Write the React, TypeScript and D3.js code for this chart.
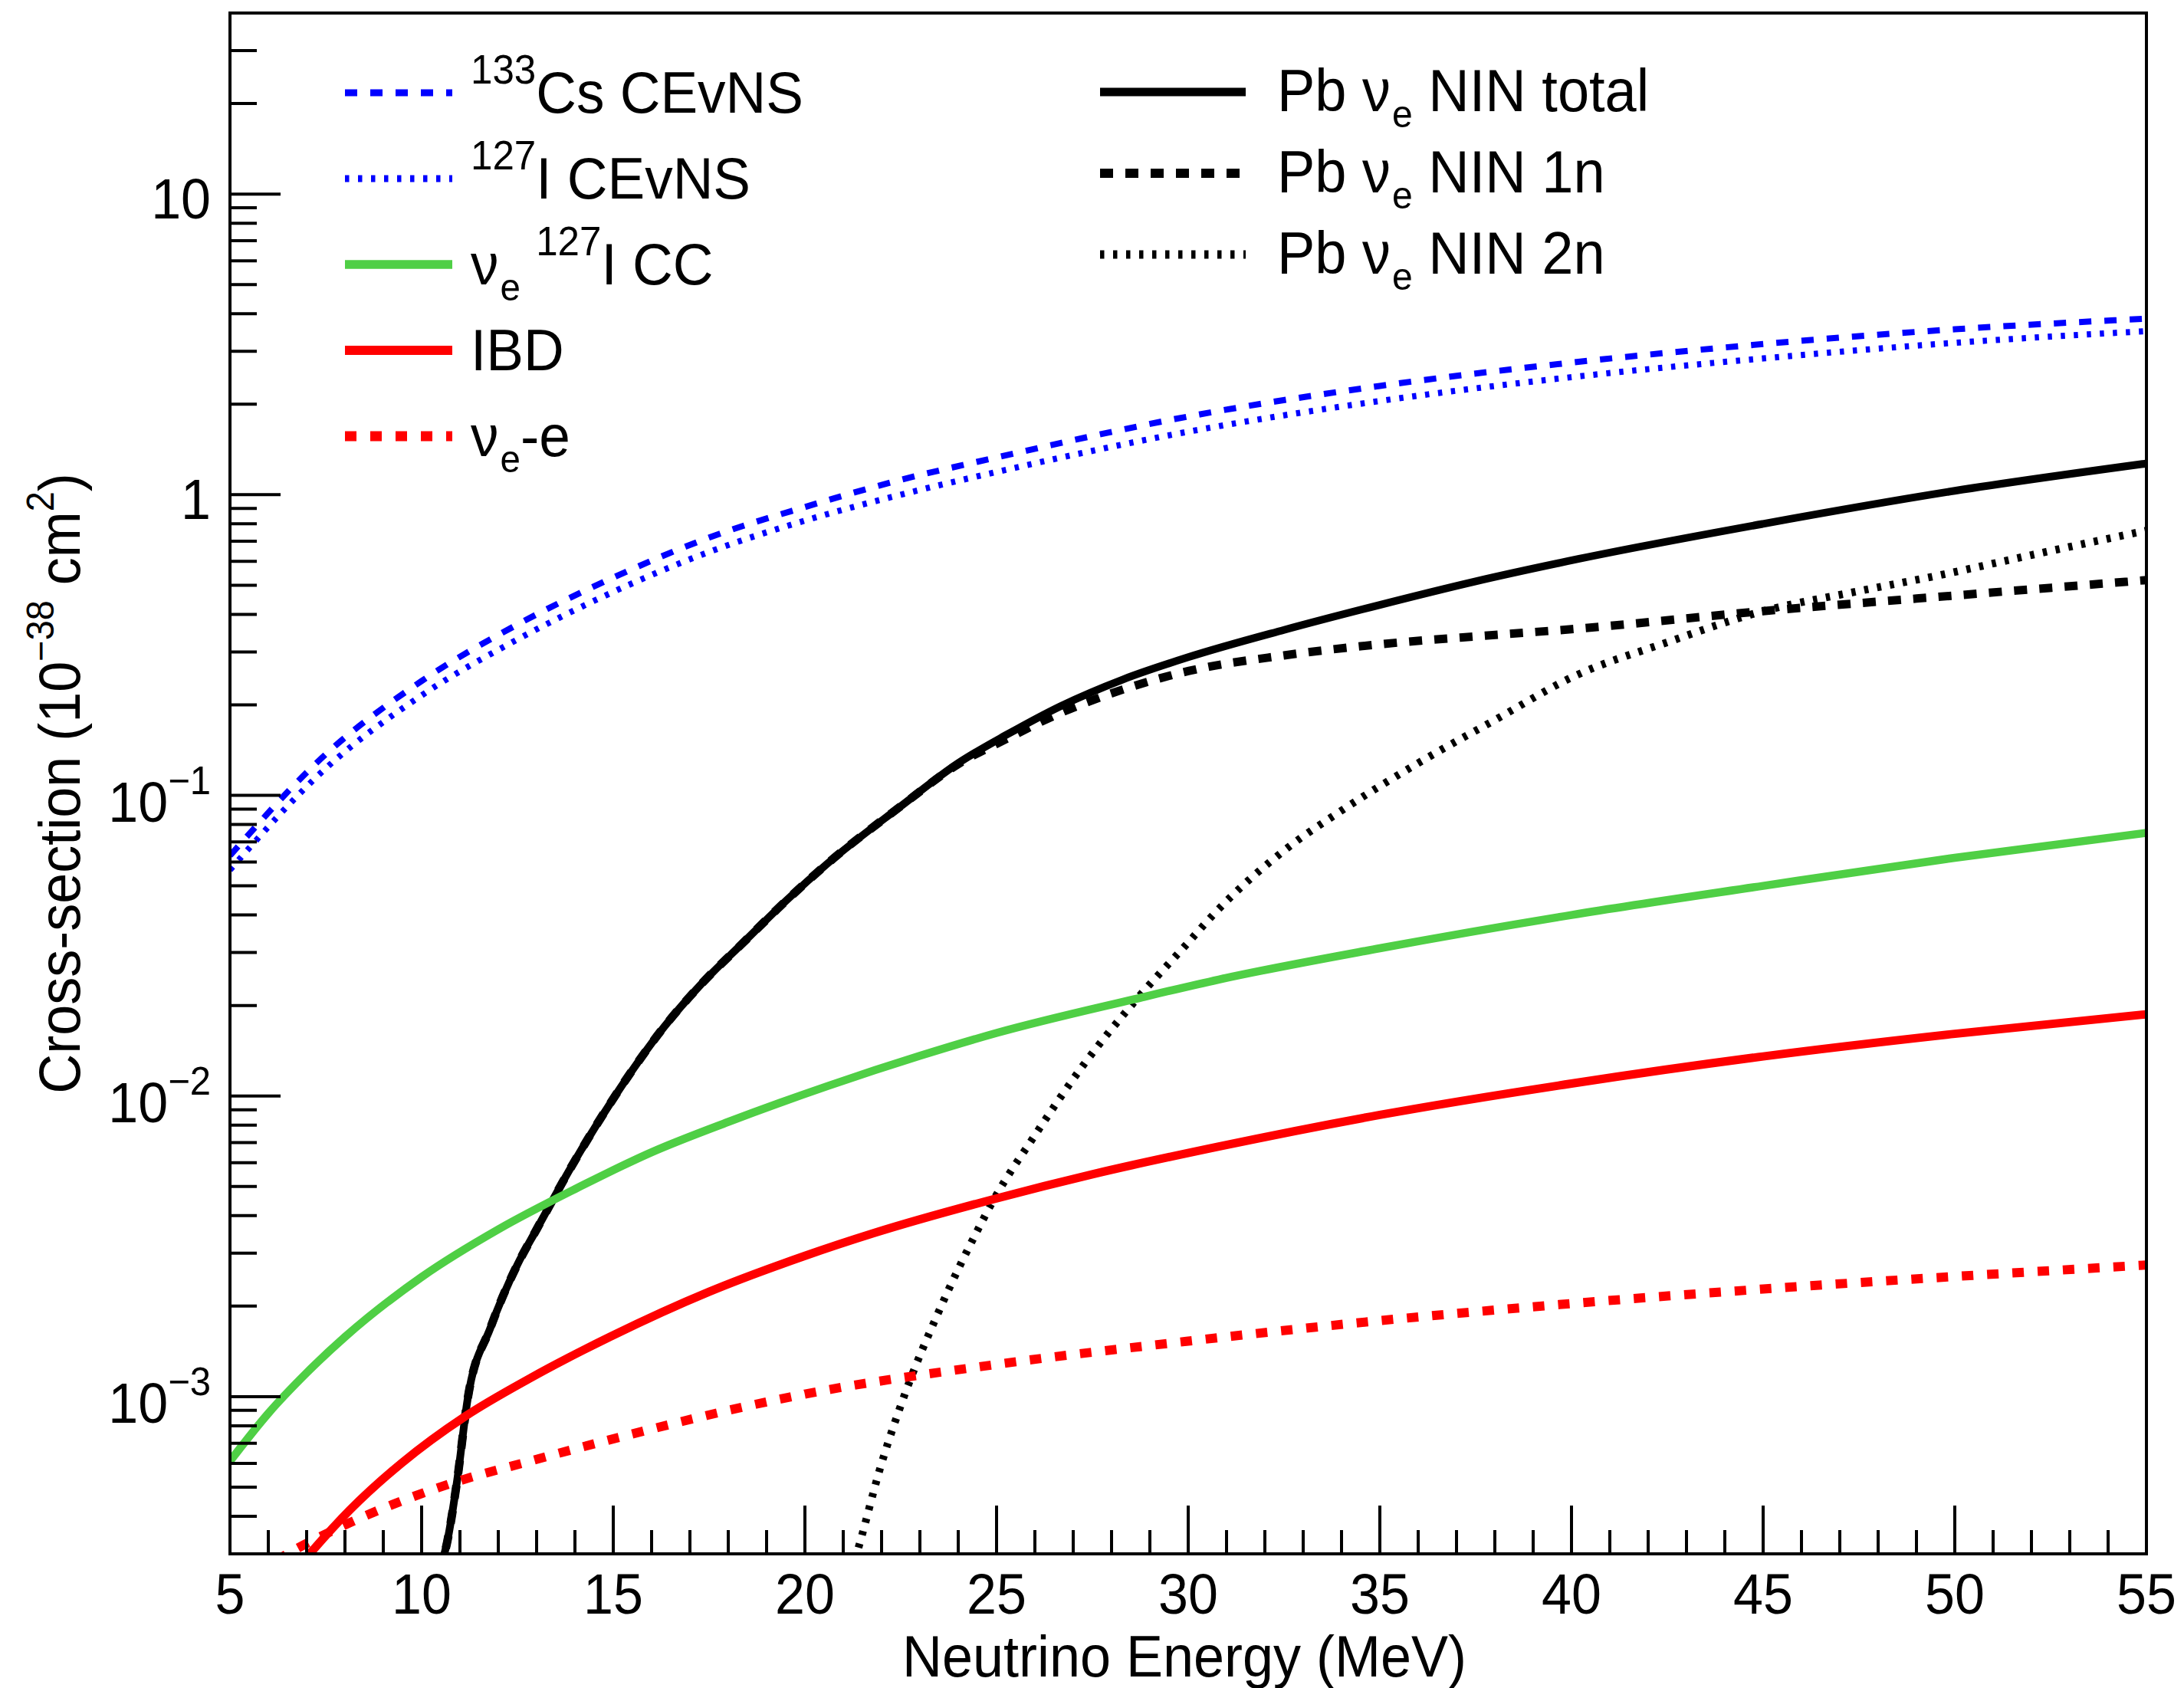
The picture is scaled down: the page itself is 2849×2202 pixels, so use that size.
import React from "react";
import * as d3 from "d3";

// ---------------- data ----------------
const csEnergy = [5, 7.5, 10, 12.5, 15, 17.5, 20, 22.5, 25, 30, 35, 40, 45, 50, 55];
const csXsec = [0.063, 0.137, 0.24, 0.37, 0.53, 0.72, 0.91, 1.12, 1.33, 1.82, 2.3, 2.75, 3.17, 3.55, 3.85];

const iEnergy = [5, 7.5, 10, 12.5, 15, 17.5, 20, 22.5, 25, 30, 35, 40, 45, 50, 55];
const iXsec = [0.0565, 0.123, 0.215, 0.33, 0.475, 0.645, 0.82, 1.0, 1.19, 1.62, 2.05, 2.46, 2.84, 3.2, 3.5];

const ccEnergy = [5, 6, 7, 8, 10, 12, 14, 16, 18, 20.6, 23, 25, 28.6, 30.8, 35, 40, 45, 50, 55];
const ccXsec = [6.1e-4, 8.8e-4, 1.2e-3, 1.58e-3, 2.5e-3, 3.6e-3, 4.9e-3, 6.5e-3, 8.2e-3, 0.0108, 0.0136, 0.0162, 0.021, 0.0244, 0.031, 0.04, 0.05, 0.062, 0.075];

const ibdEnergy = [6.9, 7.13, 8.13, 9.47, 11.13, 12.8, 14.93, 17.5, 20, 21.8, 24.93, 27.5, 30.8, 35, 40, 45, 50, 55];
const ibdXsec = [2.82e-4, 3.05e-4, 4.2e-4, 6.0e-4, 8.59e-4, 1.146e-3, 1.585e-3, 2.233e-3, 2.94e-3, 3.5e-3, 4.54e-3, 5.49e-3, 6.79e-3, 8.65e-3, 0.011, 0.01354, 0.0161, 0.0187];

const nueEnergy = [6.2, 6.5, 8.13, 10.8, 12.8, 14.8, 20, 25, 30, 35, 40, 45, 50, 55];
const nueXsec = [2.85e-4, 3.0e-4, 3.81e-4, 5.16e-4, 6.09e-4, 7.13e-4, 1.02e-3, 1.28e-3, 1.53e-3, 1.79e-3, 2.04e-3, 2.28e-3, 2.51e-3, 2.74e-3];

const ninTotalEnergy = [10.45, 10.67, 10.93, 11.2, 11.8, 12.5, 13, 14, 15, 16.33, 17.3, 18.33, 19.5, 20.6, 22.5, 24, 25.3, 26.67, 28.3, 30, 32.5, 35, 37.5, 40.2, 45, 50, 55];
const ninTotalXsec = [2.6e-4, 3.3e-4, 5.3e-4, 9.8e-4, 1.7e-3, 2.75e-3, 3.6e-3, 6.1e-3, 9.8e-3, 0.017, 0.0236, 0.0318, 0.0445, 0.0595, 0.092, 0.128, 0.16, 0.198, 0.243, 0.288, 0.355, 0.43, 0.515, 0.612, 0.8, 1.03, 1.27];

const nin1nEnergy = [10.45, 10.67, 10.93, 11.2, 11.8, 12.5, 13, 14, 15, 16.33, 17.3, 18.33, 19.5, 20.6, 22.5, 24, 25.3, 26.67, 28.3, 30, 32.5, 35, 37.5, 40, 45, 50, 55];
const nin1nXsec = [2.6e-4, 3.3e-4, 5.3e-4, 9.8e-4, 1.7e-3, 2.75e-3, 3.6e-3, 6.1e-3, 9.8e-3, 0.017, 0.0236, 0.0318, 0.0445, 0.0595, 0.092, 0.127, 0.155, 0.188, 0.225, 0.259, 0.292, 0.318, 0.338, 0.357, 0.41, 0.462, 0.52];

const nin2nEnergy = [21.2, 21.35, 22, 22.62, 23.5, 24.53, 24.93, 26, 27.27, 28.6, 30, 30.67, 32.6, 34, 36, 38, 40.07, 42.5, 45, 47.5, 49.7, 52, 55];
const nin2nXsec = [2.6e-4, 3.0e-4, 6.0e-4, 1.03e-3, 1.93e-3, 3.63e-3, 4.53e-3, 7.4e-3, 0.0127, 0.0206, 0.0324, 0.0403, 0.067, 0.089, 0.128, 0.178, 0.249, 0.323, 0.41, 0.478, 0.543, 0.63, 0.76];

const xMajorTicks = [5, 10, 15, 20, 25, 30, 35, 40, 45, 50, 55];
const xTickLabels = ["5", "10", "15", "20", "25", "30", "35", "40", "45", "50", "55"];
const yMajorTicks = [1e-3, 1e-2, 1e-1, 1, 10];
const yTickBase = ["10", "10", "10", "1", "10"];
const yTickExp = ["\u22123", "\u22122", "\u22121", "", ""];

const X_DOMAIN = [5, 55];
const Y_DOMAIN = [3e-4, 40];

// ---------------- layout ----------------
const W = 2849;
const H = 2202;
const PL = 300, PR = 2800, PT = 17, PB = 2027;
const FONT = "'Liberation Sans', Arial, Helvetica, sans-serif";
const STRETCH = 1.05;

const x = d3.scaleLinear().domain(X_DOMAIN).range([PL, PR]);
const y = d3.scaleLog().domain(Y_DOMAIN).range([PB, PT]);

type Series = { key: string; e: number[]; v: number[]; color: string; width: number; dash?: string };

const series: Record<string, Series> = {
  cs: { key: "cs", e: csEnergy, v: csXsec, color: "#0000ff", width: 8, dash: "16 17" },
  i127: { key: "i127", e: iEnergy, v: iXsec, color: "#0000ff", width: 8, dash: "5.5 11.5" },
  cc: { key: "cc", e: ccEnergy, v: ccXsec, color: "#4fcf45", width: 10.5 },
  ibd: { key: "ibd", e: ibdEnergy, v: ibdXsec, color: "#ff0000", width: 11 },
  nue: { key: "nue", e: nueEnergy, v: nueXsec, color: "#ff0000", width: 12, dash: "15 18" },
  ninTotal: { key: "ninTotal", e: ninTotalEnergy, v: ninTotalXsec, color: "#000000", width: 10 },
  nin1n: { key: "nin1n", e: nin1nEnergy, v: nin1nXsec, color: "#000000", width: 11, dash: "17 16" },
  nin2n: { key: "nin2n", e: nin2nEnergy, v: nin2nXsec, color: "#000000", width: 10, dash: "5.5 11.5" },
};

const drawOrder = ["nin1n", "ninTotal", "nin2n", "cs", "i127", "cc", "ibd", "nue"];

const line = d3
  .line<[number, number]>()
  .x((d) => x(d[0]))
  .y((d) => y(d[1]))
  .curve(d3.curveMonotoneX);

function pathFor(s: Series) {
  const pts: [number, number][] = s.e.map((e, i) => [e, s.v[i]]);
  return line(pts) || "";
}

function Txt(props: { x: number; y: number; size: number; anchor?: string; rotate?: number; children: any }) {
  const { x: tx, y: ty, size, anchor, rotate, children } = props;
  const tr = `translate(${tx},${ty})` + (rotate ? ` rotate(${rotate})` : "") + ` scale(1,${STRETCH})`;
  return (
    <g transform={tr}>
      <text x={0} y={0} fontSize={size} fontFamily={FONT} textAnchor={anchor || "start"} fill="#000" style={{ whiteSpace: "pre" }}>
        {children}
      </text>
    </g>
  );
}

const SUP = 0.7;
const SUP_RAISE = 0.5;
const SUB_DROP = 0.27;

function Sup({ F, text, after }: { F: number; text: string; after: string }) {
  return (
    <>
      <tspan fontSize={F * SUP} dy={-F * SUP_RAISE}>{text}</tspan>
      <tspan dy={F * SUP_RAISE}>{after}</tspan>
    </>
  );
}

const FL = 73; // left legend font
const FR = 74; // right legend font
const leftRows = [121, 233, 345, 457, 569];
const rightRows = [120, 226, 332];

function LegendLine({ s, x1, x2, yy }: { s: Series; x1: number; x2: number; yy: number }) {
  return (
    <line x1={x1} x2={x2} y1={yy} y2={yy} stroke={s.color} strokeWidth={s.width + 1} strokeDasharray={s.dash} />
  );
}

function NuE({ F }: { F: number }) {
  return (
    <>
      <tspan>{"\u03BD"}</tspan>
      <tspan fontSize={F * 0.65} dy={F * SUB_DROP} dx={2}>e</tspan>
    </>
  );
}

export default function App() {
  const xMinor = d3.range(5, 55.001, 1).filter((v) => Math.abs(v % 5) > 1e-6);
  const yMinor: number[] = [];
  for (let d = -4; d <= 1; d++) {
    for (let m = 2; m <= 9; m++) {
      const v = m * Math.pow(10, d);
      if (v > Y_DOMAIN[0] * 1.001 && v < Y_DOMAIN[1] * 0.999) yMinor.push(v);
    }
  }
  const TL = 63, TS = 31, YTL = 66, YTS = 35;

  return (
    <svg width={W} height={H} viewBox={`0 0 ${W} ${H}`} style={{ position: "absolute", left: 0, top: 0, display: "block", background: "#fff" }}>
      <rect x={0} y={0} width={W} height={H} fill="#fff" />
      <defs>
        <clipPath id="plotclip">
          <rect x={PL} y={PT} width={PR - PL} height={PB - PT} />
        </clipPath>
      </defs>

      {/* curves */}
      <g clipPath="url(#plotclip)" fill="none">
        {drawOrder.map((k) => {
          const s = series[k];
          return (
            <path key={k} d={pathFor(s)} stroke={s.color} strokeWidth={s.width} strokeDasharray={s.dash} strokeLinecap="butt" strokeLinejoin="round" />
          );
        })}
      </g>

      {/* frame */}
      <rect x={PL} y={PT} width={PR - PL} height={PB - PT} fill="none" stroke="#000" strokeWidth={4} />

      {/* x ticks */}
      {xMajorTicks.map((t) => (
        <line key={"xm" + t} x1={x(t)} x2={x(t)} y1={PB} y2={PB - TL} stroke="#000" strokeWidth={4} />
      ))}
      {xMinor.map((t) => (
        <line key={"xn" + t} x1={x(t)} x2={x(t)} y1={PB} y2={PB - TS} stroke="#000" strokeWidth={4} />
      ))}
      {xMajorTicks.map((t, i) => (
        <Txt key={"xl" + t} x={x(t)} y={2105} size={70} anchor="middle">
          {xTickLabels[i]}
        </Txt>
      ))}

      {/* y ticks */}
      {yMajorTicks.map((t) => (
        <line key={"ym" + t} x1={PL} x2={PL + YTL} y1={y(t)} y2={y(t)} stroke="#000" strokeWidth={4} />
      ))}
      {yMinor.map((t) => (
        <line key={"yn" + t} x1={PL} x2={PL + YTS} y1={y(t)} y2={y(t)} stroke="#000" strokeWidth={4} />
      ))}
      {yMajorTicks.map((t, i) =>
        yTickExp[i] ? (
          <Txt key={"yl" + t} x={275} y={y(t) + 34} size={70} anchor="end">
            <tspan>{yTickBase[i]}</tspan>
            <tspan fontSize={49} dy={-34}>{yTickExp[i]}</tspan>
          </Txt>
        ) : (
          <Txt key={"yl" + t} x={275} y={y(t) + 32} size={70} anchor="end">
            {yTickBase[i]}
          </Txt>
        )
      )}

      {/* axis titles */}
      <Txt x={1545} y={2187} size={72} anchor="middle">
        Neutrino Energy (MeV)
      </Txt>
      <Txt x={104} y={1022} size={72} anchor="middle" rotate={-90}>
        <tspan>Cross-section (10</tspan>
        <tspan fontSize={72 * 0.65} dy={-72 * 0.45}>{"\u221238"}</tspan>
        <tspan dy={72 * 0.45}> cm</tspan>
        <tspan fontSize={72 * 0.65} dy={-72 * 0.45}>2</tspan>
        <tspan dy={72 * 0.45}>)</tspan>
      </Txt>

      {/* left legend */}
      <LegendLine s={series.cs} x1={450} x2={590} yy={leftRows[0]} />
      <Txt x={614} y={leftRows[0] + 26} size={FL}>
        <Sup F={FL} text="133" after="Cs CEvNS" />
      </Txt>
      <LegendLine s={series.i127} x1={450} x2={590} yy={leftRows[1]} />
      <Txt x={614} y={leftRows[1] + 26} size={FL}>
        <Sup F={FL} text="127" after="I CEvNS" />
      </Txt>
      <LegendLine s={series.cc} x1={450} x2={590} yy={leftRows[2]} />
      <Txt x={614} y={leftRows[2] + 26} size={FL}>
        <NuE F={FL} />
        <tspan dy={-FL * SUB_DROP}> </tspan>
        <tspan fontSize={FL * SUP} dy={-FL * SUP_RAISE}>127</tspan>
        <tspan dy={FL * SUP_RAISE}>I CC</tspan>
      </Txt>
      <LegendLine s={series.ibd} x1={450} x2={590} yy={leftRows[3]} />
      <Txt x={614} y={leftRows[3] + 26} size={FL}>
        IBD
      </Txt>
      <LegendLine s={series.nue} x1={450} x2={590} yy={leftRows[4]} />
      <Txt x={614} y={leftRows[4] + 26} size={FL}>
        <NuE F={FL} />
        <tspan dy={-FL * SUB_DROP}>-e</tspan>
      </Txt>

      {/* right legend */}
      {[
        { s: series.ninTotal, label: "NIN total" },
        { s: series.nin1n, label: "NIN 1n" },
        { s: series.nin2n, label: "NIN 2n" },
      ].map((row, i) => (
        <g key={"rl" + i}>
          <LegendLine s={row.s} x1={1435} x2={1625} yy={rightRows[i]} />
          <Txt x={1666} y={rightRows[i] + 25} size={FR}>
            <tspan>{"Pb "}</tspan>
            <NuE F={FR} />
            <tspan dy={-FR * SUB_DROP}>{" " + row.label}</tspan>
          </Txt>
        </g>
      ))}
    </svg>
  );
}
